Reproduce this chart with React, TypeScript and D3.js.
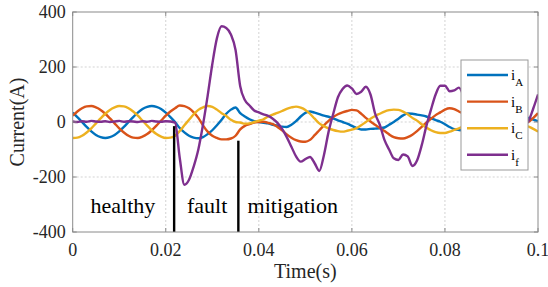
import React, { useRef, useEffect } from 'react';
import * as d3 from 'd3';

// sample instants in milliseconds (1 ms step)
const timeMs = [
  0, 1, 2, 3, 4, 5, 6, 7, 8, 9, 10, 11, 12, 13, 14, 15, 16, 17, 18, 19, 20,
  21, 22, 23, 24, 25, 26, 27, 28, 29, 30, 31, 32, 33, 34, 35, 36, 37, 38, 39, 40,
  41, 42, 43, 44, 45, 46, 47, 48, 49, 50, 51, 52, 53, 54, 55, 56, 57, 58, 59, 60,
  61, 62, 63, 64, 65, 66, 67, 68, 69, 70, 71, 72, 73, 74, 75, 76, 77, 78, 79, 80,
  81, 82, 83, 84, 85, 86, 87, 88, 89, 90, 91, 92, 93, 94, 95, 96, 97, 98, 99, 100
];

const iA = [
  34, 18, 0, -18, -34, -47, -55, -58, -55, -47, -34, -18, 0, 18, 34, 47, 55, 58, 55, 47, 34, 18, 0,
  -22, -38, -50, -57, -59, -55, -44, -30, -12, 8, 30, 45, 53,
  32, 20, 10, 3, 0, -3, -5, -10,
  -13, -17, -18, -10, 3, 20, 33, 38, 34, 29, 23, 19, 13, 6, 0, -6, -14, -22, -27, -27,
  -25, -24, -23, -20, -10, 0, 12, 24, 31, 30, 27, 24, 20, 14, 7, 1, -8, -18, -26, -29,
  -30, -28, -25, -20, -12, -5, 5, 12, 18, 22, 25, 24, 23, 22,
  14, 9, 3
];

const iB = [
  23, 38, 50, 57, 58, 53, 44, 30, 13, -5, -23, -38, -50, -57, -58, -53, -44, -30, -13, 5, 23, 38, 50,
  60, 58, 50, 35, 15, -12, -35, -50, -58, -63, -63, -60, -50,
  -27, -14, -8, -2, 0, 1, -3, -8,
  -18, -30, -45, -57, -66, -71, -72, -65, -48, -30, -12, 4, 18, 28, 35, 40, 44, 42, 30, 15,
  2, -10, -22, -33, -45, -55, -59, -60, -55, -46, -33, -18, -2, 12, 25, 35, 45, 50, 47, 38,
  30, 20, 10, 0, -10, -20, -30, -35, -38, -35, -28, -18, -10, -4,
  1, 15, 32
];

const iC = [
  -58, -57, -50, -38, -23, -5, 13, 30, 44, 53, 58, 57, 50, 38, 23, 5, -13, -30, -44, -53, -58, -57, -50,
  -33, -12, 8, 28, 44, 53, 58, 55, 45, 32, 22, 8, 0,
  -2, -6, -5, 0, 5, 10, 20, 27,
  33, 40, 48, 53, 56, 52, 44, 30, 12, -5, -15, -23, -29, -33, -35, -32, -28, -22, -12, 0,
  12, 22, 30, 38, 43, 45, 44, 38, 28, 15, 5, -8, -20, -30, -37, -40, -40, -35, -29, -23,
  -15, -5, 5, 15, 25, 32, 35, 33, 25, 15, 5, -5, -10, -14,
  -17, -25, -35
];

const iF = [
  2, 0, 3, 1, 4, 2, 1, 3, 0, 2, 4, 1, 3, 2, 0, 3, 1, 4, 2, 1, 3, 2, -2,
  -130, -228, -210, -162, -100, -10, 95, 210, 305, 348, 342, 318, 262,
  130, 80, 60, 42, 35, 28, 22, 12,
  -3, -25, -55, -90, -125, -144, -135, -127, -150, -178, -120, -35, 30, 90, 120, 133, 122, 102, 110, 128,
  100, 30, -10, -65, -100, -132, -138, -118, -125, -160, -140, -85, -15, 45, 100, 132, 132, 112, 115, 125,
  95, 50, 0, -40, -70, -80, -75, -90, -100, -80, -40, -20, -30, -15,
  5, 50, 100
];

const seriesValues = [iA, iB, iC, iF];
const seriesSubs = ['A', 'B', 'C', 'f'];
const seriesColors = ['#0072BD', '#D95319', '#EDB120', '#7E2F8E'];

const xTicks = [0, 0.02, 0.04, 0.06, 0.08, 0.1];
const xTickLabels = ['0', '0.02', '0.04', '0.06', '0.08', '0.1'];
const yTicks = [-400, -200, 0, 200, 400];
const yTickLabels = ['-400', '-200', '0', '200', '400'];

// switching instants (s) and where the marker line stops (A)
const switchTimes = [0.0218, 0.0356];
const switchTops = [-15, -68];

const phaseLabels = ['healthy', 'fault', 'mitigation'];
const phaseLabelTimes = [0.0108, 0.0289, 0.0473];
const phaseLabelLevel = -331;

const App = () => {
  const svgRef = useRef<SVGSVGElement>(null);

  useEffect(() => {
    if (!svgRef.current) return;
    const svg = d3.select(svgRef.current);
    svg.selectAll('*').remove();

    const left = 72.7, right = 538, top = 12, bottom = 232;
    const font = '"Liberation Serif", "Times New Roman", serif';
    const axisColor = '#8a8a8a';

    const x = d3.scaleLinear().domain([0, 0.1]).range([left, right]);
    const y = d3.scaleLinear().domain([-400, 400]).range([bottom, top]);

    svg.append('rect').attr('width', 548).attr('height', 287).attr('fill', '#fff');

    // grid
    svg.append('g').selectAll('line')
      .data(xTicks.slice(1, -1))
      .enter().append('line')
      .attr('x1', d => x(d)).attr('x2', d => x(d))
      .attr('y1', top).attr('y2', bottom)
      .attr('stroke', '#c8c8c8').attr('stroke-width', 0.8)
      .attr('stroke-dasharray', '2,2');
    svg.append('g').selectAll('line')
      .data(yTicks.slice(1, -1))
      .enter().append('line')
      .attr('x1', left).attr('x2', right)
      .attr('y1', d => y(d)).attr('y2', d => y(d))
      .attr('stroke', '#c8c8c8').attr('stroke-width', 0.8)
      .attr('stroke-dasharray', '2,2');

    // curves
    svg.append('clipPath').attr('id', 'plot-clip')
      .append('rect')
      .attr('x', left).attr('y', top)
      .attr('width', right - left).attr('height', bottom - top);

    const line = d3.line<number>()
      .x((d, i) => x(timeMs[i] / 1000))
      .y(d => y(d))
      .curve(d3.curveMonotoneX);

    svg.append('g').attr('clip-path', 'url(#plot-clip)')
      .selectAll('path')
      .data(seriesValues)
      .enter().append('path')
      .attr('d', d => line(d))
      .attr('fill', 'none')
      .attr('stroke', (d, i) => seriesColors[i])
      .attr('stroke-width', 2.4)
      .attr('stroke-linejoin', 'round');

    // switching markers
    svg.append('g').selectAll('line')
      .data(switchTimes)
      .enter().append('line')
      .attr('x1', d => x(d)).attr('x2', d => x(d))
      .attr('y1', y(-400)).attr('y2', (d, i) => y(switchTops[i]))
      .attr('stroke', '#000').attr('stroke-width', 2.4);

    svg.append('g').selectAll('text')
      .data(phaseLabels)
      .enter().append('text')
      .attr('x', (d, i) => x(phaseLabelTimes[i]))
      .attr('y', y(phaseLabelLevel))
      .attr('text-anchor', 'middle')
      .style('font-family', font)
      .style('font-size', '22px')
      .style('fill', '#000')
      .text(d => d);

    // axes box + inner ticks
    svg.append('rect')
      .attr('x', left).attr('y', top)
      .attr('width', right - left).attr('height', bottom - top)
      .attr('fill', 'none').attr('stroke', axisColor).attr('stroke-width', 1);

    const ticks = svg.append('g').attr('stroke', axisColor).attr('stroke-width', 1);
    xTicks.forEach(t => {
      ticks.append('line').attr('x1', x(t)).attr('x2', x(t)).attr('y1', bottom).attr('y2', bottom - 4);
      ticks.append('line').attr('x1', x(t)).attr('x2', x(t)).attr('y1', top).attr('y2', top + 4);
    });
    yTicks.forEach(t => {
      ticks.append('line').attr('x1', left).attr('x2', left + 4).attr('y1', y(t)).attr('y2', y(t));
      ticks.append('line').attr('x1', right).attr('x2', right - 4).attr('y1', y(t)).attr('y2', y(t));
    });

    svg.append('g').selectAll('text')
      .data(xTicks)
      .enter().append('text')
      .attr('x', d => x(d))
      .attr('y', bottom + 24)
      .attr('text-anchor', 'middle')
      .style('font-family', font)
      .style('font-size', '18px')
      .style('fill', '#262626')
      .text((d, i) => xTickLabels[i]);

    svg.append('g').selectAll('text')
      .data(yTicks)
      .enter().append('text')
      .attr('x', left - 7)
      .attr('y', d => y(d))
      .attr('dy', '0.33em')
      .attr('text-anchor', 'end')
      .style('font-family', font)
      .style('font-size', '18px')
      .style('fill', '#262626')
      .text((d, i) => yTickLabels[i]);

    svg.append('text')
      .attr('x', (left + right) / 2)
      .attr('y', 278)
      .attr('text-anchor', 'middle')
      .style('font-family', font)
      .style('font-size', '20px')
      .style('fill', '#262626')
      .text('Time(s)');

    svg.append('text')
      .attr('transform', `translate(24, ${(top + bottom) / 2}) rotate(-90)`)
      .attr('text-anchor', 'middle')
      .style('font-family', font)
      .style('font-size', '20px')
      .style('fill', '#262626')
      .text('Current(A)');

    // legend
    const legend = svg.append('g').attr('transform', 'translate(461, 60)');
    legend.append('rect')
      .attr('width', 67).attr('height', 110)
      .attr('fill', '#fff').attr('stroke', '#9a9a9a').attr('stroke-width', 1);

    const rows = legend.selectAll('.legend')
      .data(seriesSubs)
      .enter().append('g')
      .attr('class', 'legend')
      .attr('transform', (d, i) => `translate(0, ${15 + i * 26.6})`);

    rows.append('line')
      .attr('x1', 6).attr('x2', 47)
      .attr('stroke', (d, i) => seriesColors[i])
      .attr('stroke-width', 2.4);

    const labels = rows.append('text')
      .attr('x', 50).attr('y', 5)
      .style('font-family', font)
      .style('font-size', '15px')
      .style('fill', '#000');
    labels.append('tspan').text('i');
    labels.append('tspan')
      .attr('dy', 6)
      .style('font-size', '11px')
      .text(d => d);
  }, []);

  return (
    <svg
      ref={svgRef}
      width={548}
      height={287}
      style={{ position: 'absolute', left: 0, top: 0, display: 'block' }}
    />
  );
};

export default App;
